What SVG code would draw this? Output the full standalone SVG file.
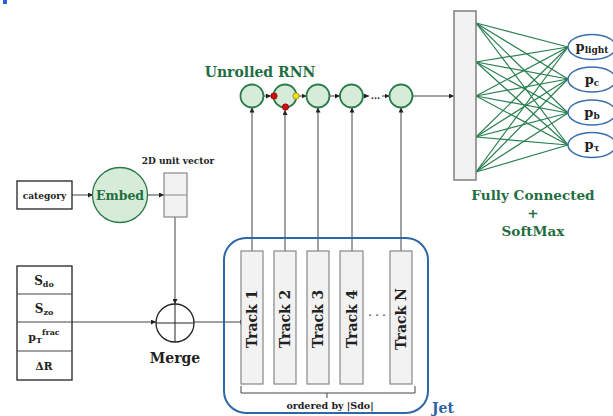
<svg xmlns="http://www.w3.org/2000/svg" width="613" height="416" viewBox="0 0 613 416">
<defs>
<marker id="ah" viewBox="0 0 10 10" refX="10" refY="5" markerWidth="5" markerHeight="5" markerUnits="userSpaceOnUse" orient="auto"><path d="M0,0 L10,5 L0,10 z" fill="#222"/></marker>
<style>
text{font-family:"DejaVu Serif","Liberation Serif",serif;font-weight:bold;text-anchor:middle}
.ln{stroke:#444;stroke-width:1;fill:none}
.arr{stroke:#444;stroke-width:1;fill:none;marker-end:url(#ah)}
.rnn{fill:#d6ebd8;stroke:#2a7a4a;stroke-width:1.8}
.box{fill:#fff;stroke:#222;stroke-width:1.3}
.trk{fill:#f2f2f2;stroke:#888;stroke-width:1.2}
.fc{stroke:#2a8050;stroke-width:1.2}
.out{fill:#fff;stroke:#3a6eae;stroke-width:1.5}
.g{fill:#1f6e42}
.k{fill:#222}
</style>
</defs>
<rect x="3" y="0" width="4" height="4" fill="#2a5fd0"/>

<g id="connectors">
<line class="arr" x1="72" y1="195" x2="93" y2="195"/>
<line class="arr" x1="148" y1="195" x2="164" y2="195"/>
<line class="arr" x1="175" y1="217" x2="175" y2="304"/>
<line class="arr" x1="72" y1="322" x2="156" y2="322"/>
<line class="arr" x1="194" y1="322" x2="245" y2="322"/>
<line class="arr" x1="252" y1="251" x2="252" y2="107.5"/>
<line class="arr" x1="285" y1="251" x2="285" y2="110"/>
<line class="arr" x1="318" y1="251" x2="318" y2="107.5"/>
<line class="arr" x1="352" y1="251" x2="352" y2="107.5"/>
<line class="arr" x1="401" y1="251" x2="401" y2="107.5"/>
<line class="arr" x1="263.5" y1="96" x2="271" y2="96"/>
<line class="arr" x1="299" y1="96" x2="306.5" y2="96"/>
<line class="arr" x1="329.5" y1="96" x2="340" y2="96"/>
<line class="arr" x1="363.5" y1="96" x2="369" y2="96"/>
<line class="arr" x1="382" y1="96" x2="389.5" y2="96"/>
<line class="arr" x1="412.5" y1="96" x2="454" y2="96"/>
<g id="fc-lines">
<line class="fc" x1="476" y1="23" x2="568" y2="47"/><line class="fc" x1="476" y1="23" x2="568" y2="79"/><line class="fc" x1="476" y1="23" x2="568" y2="113"/><line class="fc" x1="476" y1="23" x2="568" y2="145"/>
<line class="fc" x1="476" y1="62" x2="568" y2="47"/><line class="fc" x1="476" y1="62" x2="568" y2="79"/><line class="fc" x1="476" y1="62" x2="568" y2="113"/><line class="fc" x1="476" y1="62" x2="568" y2="145"/>
<line class="fc" x1="476" y1="96" x2="568" y2="47"/><line class="fc" x1="476" y1="96" x2="568" y2="79"/><line class="fc" x1="476" y1="96" x2="568" y2="113"/><line class="fc" x1="476" y1="96" x2="568" y2="145"/>
<line class="fc" x1="476" y1="137" x2="568" y2="47"/><line class="fc" x1="476" y1="137" x2="568" y2="79"/><line class="fc" x1="476" y1="137" x2="568" y2="113"/><line class="fc" x1="476" y1="137" x2="568" y2="145"/>
<line class="fc" x1="476" y1="172" x2="568" y2="47"/><line class="fc" x1="476" y1="172" x2="568" y2="79"/><line class="fc" x1="476" y1="172" x2="568" y2="113"/><line class="fc" x1="476" y1="172" x2="568" y2="145"/>
</g>
</g>

<g id="category">
<rect class="box" x="17" y="181" width="55" height="28"/>
<text x="44.5" y="198.5" font-size="9" class="k">category</text>
</g>
<g id="embed">
<circle cx="120" cy="195" r="27.5" fill="#d6ebd8" stroke="#2a7a4a" stroke-width="1.3"/>
<text x="120" y="199.5" font-size="12.5" class="g">Embed</text>
</g>
<g id="unit-vector">
<text x="178" y="164" font-size="9" class="k">2D unit vector</text>
<rect class="trk" x="164" y="173" width="23" height="44" stroke-width="1"/>
<line x1="164" y1="195" x2="187" y2="195" stroke="#888" stroke-width="1"/>
</g>
<g id="features">
<rect class="box" x="17" y="266" width="55" height="114"/>
<line class="ln" x1="17" y1="294" x2="72" y2="294" stroke="#222"/>
<line class="ln" x1="17" y1="322" x2="72" y2="322" stroke="#222"/>
<line class="ln" x1="17" y1="351" x2="72" y2="351" stroke="#222"/>
<text x="44" y="285" font-size="12" class="k">S<tspan font-size="8" dy="2">do</tspan></text>
<text x="44" y="313" font-size="12" class="k">S<tspan font-size="8" dy="2">zo</tspan></text>
<text x="44" y="341" font-size="11" class="k">p<tspan font-size="8" dy="2">T</tspan><tspan font-size="8" dy="-8">frac</tspan></text>
<text x="44" y="370" font-size="10.5" class="k">ΔR</text>
</g>
<g id="merge">
<circle cx="175" cy="323" r="19" fill="none" stroke="#222" stroke-width="1.3"/>
<line x1="156" y1="323" x2="194" y2="323" stroke="#222" stroke-width="1"/>
<line x1="175" y1="304" x2="175" y2="342" stroke="#222" stroke-width="1"/>
<text x="175" y="363" font-size="14" class="k">Merge</text>
</g>
<g id="jet">
<rect x="224" y="238" width="204" height="175" rx="22" fill="none" stroke="#2e67a8" stroke-width="2"/>
<text x="443" y="413" font-size="14" fill="#2e62a6">Jet</text>
<path d="M241,386 V393 H415 V386 M327,393 V398" class="ln" stroke="#333"/>
<text x="330" y="408.5" font-size="9.5" class="k">ordered by |Sdo|</text>
<text x="377" y="318" font-size="10" fill="#666">· · ·</text>
</g>
<g id="track1"><rect class="trk" x="241" y="251" width="22" height="133"/><text transform="translate(257,319) rotate(-90)" font-size="14" class="k">Track 1</text></g>
<g id="track2"><rect class="trk" x="274" y="251" width="22" height="133"/><text transform="translate(290,319) rotate(-90)" font-size="14" class="k">Track 2</text></g>
<g id="track3"><rect class="trk" x="307" y="251" width="22" height="133"/><text transform="translate(323,319) rotate(-90)" font-size="14" class="k">Track 3</text></g>
<g id="track4"><rect class="trk" x="340" y="251" width="23" height="133"/><text transform="translate(356.5,319) rotate(-90)" font-size="14" class="k">Track 4</text></g>
<g id="trackN"><rect class="trk" x="390" y="251" width="22" height="133"/><text transform="translate(406,319) rotate(-90)" font-size="14" class="k">Track N</text></g>

<g id="rnn">
<text x="260" y="77" font-size="14" class="g">Unrolled RNN</text>
<circle class="rnn" cx="252" cy="96" r="11.5"/>
<circle class="rnn" cx="285" cy="96" r="11.5"/>
<circle class="rnn" cx="318" cy="96" r="11.5"/>
<circle class="rnn" cx="351.5" cy="96" r="11.5"/>
<circle class="rnn" cx="401" cy="96" r="11.5"/>
<text x="375.5" y="99" font-size="9" class="k">...</text>
<circle cx="274" cy="96" r="3.2" fill="#d01010" stroke="#700" stroke-width="0.6"/>
<circle cx="285.5" cy="107" r="3.2" fill="#d01010" stroke="#700" stroke-width="0.6"/>
<circle cx="296" cy="96" r="3.2" fill="#f0e020" stroke="#776600" stroke-width="0.6"/>
</g>
<g id="fc-layer">
<rect x="454" y="11" width="22" height="169" fill="#f2f2f2" stroke="#7f7f7f" stroke-width="1.5"/>
<text x="533" y="200" font-size="13.6" class="g">Fully Connected</text>
<text x="533" y="218" font-size="13.6" class="g">+</text>
<text x="533" y="236" font-size="13.6" class="g">SoftMax</text>
</g>
<g id="p-light"><ellipse class="out" cx="592" cy="47" rx="24" ry="12.5"/><text x="592" y="51" font-size="13" class="k">p<tspan font-size="9" dy="2">light</tspan></text></g>
<g id="p-c"><ellipse class="out" cx="592" cy="79.5" rx="24" ry="12.5"/><text x="592" y="83.5" font-size="13" class="k">p<tspan font-size="9" dy="2">c</tspan></text></g>
<g id="p-b"><ellipse class="out" cx="592" cy="112.5" rx="24" ry="12.5"/><text x="592" y="116.5" font-size="13" class="k">p<tspan font-size="9" dy="2">b</tspan></text></g>
<g id="p-tau"><ellipse class="out" cx="592" cy="145" rx="24" ry="12.5"/><text x="592" y="149" font-size="13" class="k">p<tspan font-size="9" dy="2">τ</tspan></text></g>
</svg>
